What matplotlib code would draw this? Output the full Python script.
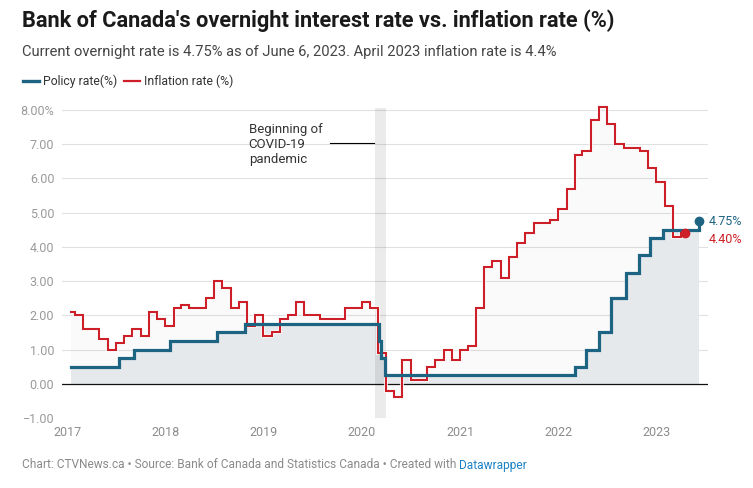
import matplotlib
matplotlib.use('Agg')
import matplotlib.pyplot as plt
import matplotlib.dates as mdates
import matplotlib.patheffects as pe
from matplotlib.lines import Line2D
import pandas as pd

plt.rcParams['font.family'] = ['Roboto', 'DejaVu Sans']

# Monthly CPI inflation (%), Jan 2017 - Apr 2023
inflation_dates = pd.date_range('2017-01-01', periods=76, freq='MS') + pd.Timedelta(days=14)
inflation_values = [2.1, 2.0, 1.6, 1.6, 1.3, 1.0, 1.2, 1.4, 1.6, 1.4, 2.1, 1.9,
                    1.7, 2.2, 2.3, 2.2, 2.2, 2.5, 3.0, 2.8, 2.2, 2.4, 1.7, 2.0,
                    1.4, 1.5, 1.9, 2.0, 2.4, 2.0, 2.0, 1.9, 1.9, 1.9, 2.2, 2.2,
                    2.4, 2.2, 0.9, -0.2, -0.4, 0.7, 0.1, 0.1, 0.5, 0.7, 1.0, 0.7,
                    1.0, 1.1, 2.2, 3.4, 3.6, 3.1, 3.7, 4.1, 4.4, 4.7, 4.7, 4.8,
                    5.1, 5.7, 6.7, 6.8, 7.7, 8.1, 7.6, 7.0, 6.9, 6.9, 6.8, 6.3,
                    5.9, 5.2, 4.3, 4.4]

# Bank of Canada overnight rate decisions (%)
policy_dates = pd.to_datetime(['2017-01-13', '2017-07-12', '2017-09-06', '2018-01-17',
                               '2018-07-11', '2018-10-24', '2020-03-04', '2020-03-13',
                               '2020-03-27', '2022-03-02', '2022-04-13', '2022-06-01',
                               '2022-07-13', '2022-09-07', '2022-10-26', '2022-12-07',
                               '2023-01-25', '2023-06-06'])
policy_values = [0.50, 0.75, 1.00, 1.25, 1.50, 1.75, 1.25, 0.75, 0.25,
                 0.50, 1.00, 1.50, 2.50, 3.25, 3.75, 4.25, 4.50, 4.75]

y_ticks = [-1, 0, 1, 2, 3, 4, 5, 6, 7, 8]
y_tick_labels = ['\u22121.00', '0.00', '1.00', '2.00', '3.00', '4.00',
                 '5.00', '6.00', '7.00', '8.00%']
x_ticks = pd.to_datetime(['2017-01-01', '2018-01-01', '2019-01-01', '2020-01-01',
                          '2021-01-01', '2022-01-01', '2023-01-01'])
covid_start, covid_end = pd.Timestamp('2020-02-18'), pd.Timestamp('2020-03-29')

BLUE = '#1d6483'
RED = '#cc1f27'
W, H = 753, 488
Y_TOP = 8.25
PX_PER_UNIT = 34.22

fig = plt.figure(figsize=(W / 100, H / 100), dpi=100)
ax_h = (Y_TOP + 1) * PX_PER_UNIT
ax = fig.add_axes([62 / W, 1 - 418 / H, (708 - 62) / W, ax_h / H])


def px(x, y):
    return x / W, 1 - y / H


# covid band
ax.axvspan(covid_start, covid_end, ymin=0, ymax=(8.07 + 1) / (Y_TOP + 1),
           color='black', alpha=0.08, lw=0, zorder=2)

# area fills
ax.fill_between(inflation_dates, 0, inflation_values, step='mid', color='black',
                alpha=0.018, lw=0, zorder=1)
ax.fill_between(policy_dates, 0, policy_values, step='post', color='#e6e9ec', lw=0, zorder=1.5)

# grid & zero line
for yv in y_ticks:
    if yv != 0:
        ax.axhline(yv, color='#e1e1e1', lw=0.8, zorder=0.5)
ax.axhline(0, color='#111111', lw=0.9, zorder=3)

# lines
ax.plot(inflation_dates, inflation_values, drawstyle='steps-mid', color=RED, lw=1.5,
        zorder=4, solid_joinstyle='miter',
        path_effects=[pe.Stroke(linewidth=3.0, foreground='white', alpha=0.8), pe.Normal()])
ax.plot(policy_dates, policy_values, drawstyle='steps-post', color=BLUE, lw=2.3,
        zorder=5, solid_joinstyle='miter')
ax.plot(inflation_dates[-1:], inflation_values[-1:], 'o', color=RED, ms=6, zorder=6)
ax.plot(policy_dates[-1:], policy_values[-1:], 'o', color=BLUE, ms=6, zorder=6)

ax.annotate(f'{policy_values[-1]:.2f}%', xy=(policy_dates[-1], policy_values[-1]),
            xytext=(7, 0), textcoords='offset points', va='center', ha='left',
            color=BLUE, fontsize=9, annotation_clip=False)
ax.annotate(f'{inflation_values[-1]:.2f}%', xy=(inflation_dates[-1], inflation_values[-1]),
            xytext=(17, -4.8), textcoords='offset points', va='center', ha='left',
            color=RED, fontsize=9, annotation_clip=False)

# covid annotation
ax.text(pd.Timestamp('2018-11-06'), 7.0, 'Beginning of\nCOVID-19\npandemic', ha='left',
        va='center', fontsize=9.5, color='#333333', linespacing=1.22, zorder=6)
ax.plot([pd.Timestamp('2019-09-04'), pd.Timestamp('2020-02-14')], [7.03, 7.03],
        color='black', lw=0.8, zorder=6)

ax.set_xlim(pd.Timestamp('2016-12-12'), pd.Timestamp('2023-07-10'))
ax.set_ylim(-1, Y_TOP)
ax.set_yticks(y_ticks)
ax.set_yticklabels(y_tick_labels)
ax.set_xticks(x_ticks)
ax.xaxis.set_major_formatter(mdates.DateFormatter('%Y'))
ax.tick_params(axis='y', length=0, pad=5.5, labelsize=9, labelcolor='#9a9a9a')
ax.tick_params(axis='x', length=0, pad=6, labelsize=9, labelcolor='#8c8c8c')
for s in ax.spines.values():
    s.set_visible(False)

# header
fig.text(*px(22, 21), "Bank of Canada's overnight interest rate vs. inflation rate (%)",
         fontsize=15.7, fontweight='bold', color='#1a1a1a', va='center', ha='left')
fig.text(*px(22, 52), 'Current overnight rate is 4.75% as of June 6, 2023. April 2023 inflation rate is 4.4%',
         fontsize=10.6, color='#444444', va='center', ha='left')

# legend
fig.add_artist(Line2D([23 / W, 39 / W], [1 - 81 / H] * 2, color=BLUE, lw=2.4, transform=fig.transFigure))
fig.text(*px(43, 81), 'Policy rate(%)', fontsize=8.8, color='#333333', va='center', ha='left')
fig.add_artist(Line2D([124 / W, 140 / W], [1 - 81 / H] * 2, color=RED, lw=1.6, transform=fig.transFigure))
fig.text(*px(144, 81), 'Inflation rate (%)', fontsize=8.8, color='#333333', va='center', ha='left')

# footer
foot = fig.text(*px(22, 465), 'Chart: CTVNews.ca \u2022 Source: Bank of Canada and Statistics Canada \u2022 Created with ',
                fontsize=8.6, color='#8a8a8a', va='center', ha='left')
ax.annotate('Datawrapper', xy=(1, 0.5), xycoords=foot, va='center', ha='left',
            fontsize=8.6, color='#1d81c4', annotation_clip=False)

fig.savefig('out.png', dpi=100, facecolor='white')
